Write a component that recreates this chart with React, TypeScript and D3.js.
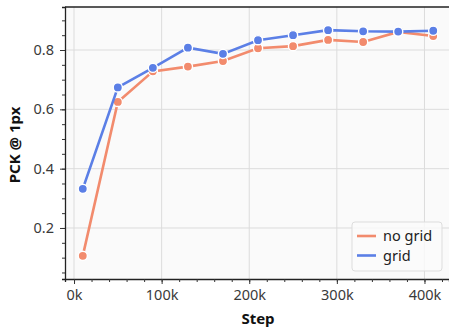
import React, { useEffect, useRef } from 'react';
import * as d3 from 'd3';

const steps = [10000, 50000, 90000, 130000, 170000, 210000, 250000, 290000, 330000, 370000, 410000];
const noGrid = [0.106, 0.625, 0.728, 0.744, 0.763, 0.806, 0.813, 0.834, 0.827, 0.861, 0.847];
const grid = [0.332, 0.674, 0.740, 0.808, 0.787, 0.833, 0.850, 0.867, 0.863, 0.862, 0.865];
const xTicks = [0, 100000, 200000, 300000, 400000];
const yTicks = [0.2, 0.4, 0.6, 0.8];

const series = [
  { name: 'no grid', values: noGrid, color: '#f28b6d' },
  { name: 'grid', values: grid, color: '#5b7fe6' },
];

const App = () => {
  const ref = useRef<SVGSVGElement>(null);

  useEffect(() => {
    const svg = d3.select(ref.current);
    svg.selectAll('*').remove();

    const left = 65, top = 7, right = 449, bottom = 279;
    const font = '"Noto Sans", "Open Sans", sans-serif';

    const x = d3.scaleLinear().domain([-10300, 428000]).range([left, right]);
    const y = d3.scaleLinear().domain([0.028, 0.945]).range([bottom, top]);

    svg.append('rect')
      .attr('x', left).attr('y', top)
      .attr('width', right - left).attr('height', bottom - top)
      .attr('fill', '#fafafa');

    // grid
    svg.append('g').selectAll('line').data(xTicks).enter().append('line')
      .attr('x1', d => x(d)).attr('x2', d => x(d))
      .attr('y1', top).attr('y2', bottom)
      .attr('stroke', '#dcdcdc').attr('stroke-width', 1);
    svg.append('g').selectAll('line').data(yTicks).enter().append('line')
      .attr('x1', left).attr('x2', right)
      .attr('y1', d => y(d)).attr('y2', d => y(d))
      .attr('stroke', '#dcdcdc').attr('stroke-width', 1);

    // axes, minor ticks first
    svg.append('g').attr('transform', `translate(0,${bottom})`)
      .call(d3.axisBottom(x).tickValues(d3.range(0, 428000, 20000)).tickSize(3).tickFormat(() => ''));
    const xMajor = svg.append('g').attr('transform', `translate(0,${bottom})`)
      .call(d3.axisBottom(x).tickValues(xTicks).tickSize(5).tickPadding(6)
        .tickFormat(d => `${(d as number) / 1000}k`));
    xMajor.select('.domain').remove();

    svg.append('g').attr('transform', `translate(${left},0)`)
      .call(d3.axisLeft(y).tickValues(d3.range(0.05, 0.95, 0.05)).tickSize(3).tickFormat(() => ''));
    const yMajor = svg.append('g').attr('transform', `translate(${left},0)`)
      .call(d3.axisLeft(y).tickValues(yTicks).tickSize(5).tickPadding(6).tickFormat(d3.format('.1f')));
    yMajor.select('.domain').remove();

    svg.selectAll('.domain').attr('stroke', '#222').attr('stroke-width', 1.3);
    svg.selectAll('.tick line').attr('stroke', '#333').attr('stroke-width', 1);
    svg.selectAll('.tick text').attr('font-family', font).attr('font-size', 14.5).attr('fill', '#3a3a3a');

    svg.append('line')
      .attr('x1', left).attr('x2', right).attr('y1', top).attr('y2', top)
      .attr('stroke', '#222').attr('stroke-width', 1.3);

    const line = d3.line<number>()
      .x((d, i) => x(steps[i]))
      .y(d => y(d));

    series.forEach(s => {
      svg.append('path')
        .datum(s.values)
        .attr('d', line)
        .attr('fill', 'none')
        .attr('stroke', s.color)
        .attr('stroke-width', 2.6);
      svg.append('g').selectAll('circle').data(s.values).enter().append('circle')
        .attr('cx', (d, i) => x(steps[i]))
        .attr('cy', d => y(d))
        .attr('r', 4.6)
        .attr('fill', s.color)
        .attr('stroke', '#fff')
        .attr('stroke-width', 1.4);
    });

    // axis labels
    svg.append('text')
      .attr('x', 258).attr('y', 324)
      .attr('text-anchor', 'middle')
      .attr('font-family', font).attr('font-weight', 'bold').attr('font-size', 15)
      .attr('fill', '#111')
      .text('Step');
    svg.append('text')
      .attr('transform', `translate(20,${(top + bottom) / 2 + 2}) rotate(-90)`)
      .attr('text-anchor', 'middle')
      .attr('font-family', font).attr('font-weight', 'bold').attr('font-size', 15)
      .attr('fill', '#111')
      .text('PCK @ 1px');

    // legend
    const lg = svg.append('g').attr('transform', 'translate(352,222)');
    lg.append('rect')
      .attr('width', 90).attr('height', 49).attr('rx', 3)
      .attr('fill', '#fafafa').attr('fill-opacity', 0.85)
      .attr('stroke', '#dddddd').attr('stroke-width', 1);
    series.forEach((s, i) => {
      const yy = 14 + i * 19.5;
      lg.append('line')
        .attr('x1', 5).attr('x2', 24).attr('y1', yy).attr('y2', yy)
        .attr('stroke', s.color).attr('stroke-width', 2.6);
      lg.append('text')
        .attr('x', 31).attr('y', yy + 5)
        .attr('font-family', font).attr('font-size', 14.5)
        .attr('fill', '#222')
        .text(s.name);
    });
  }, []);

  return <svg ref={ref} width={449} height={333} style={{ position: 'absolute', left: 0, top: 0 }} />;
};

export default App;
